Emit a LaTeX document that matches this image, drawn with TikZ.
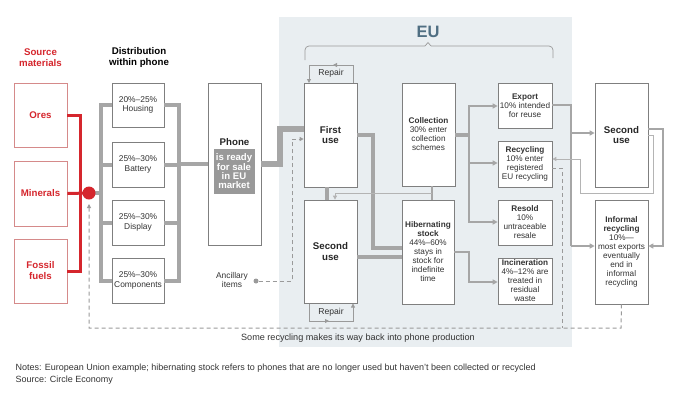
\documentclass[tikz,border=0pt]{standalone}
\usepackage{fontspec}
\setmainfont{Liberation Sans}
\usetikzlibrary{arrows.meta}
\definecolor{bgeu}{HTML}{E9EEF1}
\definecolor{bx}{HTML}{7F7F7F}
\definecolor{rbx}{HTML}{D58A8A}
\definecolor{redc}{HTML}{D5262D}
\definecolor{gline}{HTML}{A6A6A6}
\definecolor{gthin}{HTML}{B4B4B4}
\definecolor{dgray}{HTML}{9A9A9A}
\definecolor{txt}{HTML}{333333}
\definecolor{phg}{HTML}{999999}
\definecolor{eutxt}{HTML}{4F6E82}
\begin{document}
\begin{tikzpicture}[x=1pt,y=-1pt,
  box/.style={draw=bx, line width=0.7pt, fill=white, inner sep=1pt, align=center, text=txt, font=\fontsize{8.2}{9}\selectfont},
  srcbox/.style={draw=rbx, line width=0.7pt, fill=white, inner sep=1pt, align=center, text=redc, font=\fontsize{9.7}{11}\selectfont\bfseries},
  bigbox/.style={box, text=black!85, font=\fontsize{9.7}{10.5}\selectfont\bfseries},
  sz/.style 2 args={minimum width=#1pt, minimum height=#2pt},
  gl/.style={draw=gline, line width=4pt},
  glt/.style={draw=gline, line width=6.5pt},
  gm/.style={draw=gline, line width=2.4pt},
  gt/.style={draw=gthin, line width=0.8pt},
  arr/.style={-{Triangle[length=5pt,width=5pt]}},
  arrs/.style={-{Triangle[length=4pt,width=4pt]}},
  dsh/.style={draw=dgray, line width=1pt, dash pattern=on 4pt off 3pt},
  ttl/.style={align=center, font=\fontsize{9.7}{11}\selectfont\bfseries},
  lbl/.style={align=center, text=txt, font=\fontsize{8.4}{9.5}\selectfont},
]
\useasboundingbox (0,0) rectangle (680,397);
% EU background
\fill[bgeu] (279,17) rectangle (572,347);
\node[font=\fontsize{16.5}{18}\selectfont\bfseries, text=eutxt] (eu) at (428,32) {EU};
\draw[draw=dgray, line width=0.7pt, rounded corners=4pt] (305,60) -- (305,46) -- (425,46);
\draw[draw=dgray, line width=0.7pt] (425,46) -- (428,42.5) -- (431,46);
\draw[draw=dgray, line width=0.7pt, rounded corners=4pt] (431,46) -- (553,46) -- (553,58);

% titles
\node[ttl, text=redc] (srct) at (40.5,57.5) {Source\\materials};
\node[ttl] (distt) at (139,57.5) {Distribution\\within phone};

% source boxes
\node[srcbox, sz={53}{64}] (ores) at (40.5,115) {Ores};
\node[srcbox, sz={53}{65}] (minerals) at (40.5,193.5) {Minerals};
\node[srcbox, sz={53}{64}] (fossil) at (40.5,271) {Fossil\\fuels};

% distribution boxes
\node[box, sz={52}{44}, font=\fontsize{8.4}{9.8}\selectfont] (housing) at (138,105) {20\%–25\%\\Housing};
\node[box, sz={52}{45}, font=\fontsize{8.4}{9.8}\selectfont] (battery) at (138,164.5) {25\%–30\%\\Battery};
\node[box, sz={52}{45}, font=\fontsize{8.4}{9.8}\selectfont] (display) at (138,222.5) {25\%–30\%\\Display};
\node[box, sz={52}{45}, font=\fontsize{8.4}{9.8}\selectfont] (components) at (138,280.5) {25\%–30\%\\Components};

% phone
\node[box, sz={53}{162}] (phone) at (234.5,164) {};
\node[text=black!85, font=\fontsize{9.7}{10.5}\selectfont\bfseries] (phonelbl) at (234.5,142) {Phone};
\node[fill=phg, text=white, inner sep=0pt, sz={41}{45}, align=center, font=\fontsize{9.6}{9.3}\selectfont\bfseries] (ready) at (234,171.5) {is ready\\for sale\\in EU\\market};

% use boxes
\node[bigbox, sz={53}{104}] (firstuse) at (330.5,135) {First\\use};
\node[bigbox, sz={53}{103}] (seconduse) at (330.5,251.5) {Second\\use};

% collection, hibernating
\node[box, sz={53}{103}] (collection) at (428.5,134.5) {\textbf{Collection}\\30\% enter\\collection\\schemes};
\node[box, sz={52}{104}] (hibern) at (428,252) {\textbf{Hibernating}\\\textbf{stock}\\44\%–60\%\\stays in\\stock for\\indefinite\\time};

% destinations
\node[box, sz={54}{45}] (export) at (525,105.5) {\textbf{Export}\\10\% intended\\for reuse};
\node[box, sz={54}{46}] (recycling) at (525,164) {\textbf{Recycling}\\10\% enter\\registered\\EU recycling};
\node[box, sz={54}{45}] (resold) at (525,222.5) {\textbf{Resold}\\10\%\\untraceable\\resale};
\node[box, sz={54}{46}] (incin) at (525,281) {\textbf{Incineration}\\4\%–12\% are\\treated in\\residual\\waste};

% outside EU
\node[bigbox, sz={53}{104}] (secondout) at (621.5,135) {Second\\use};
\node[box, sz={53}{104}] (informal) at (621.5,252) {\textbf{Informal}\\\textbf{recycling}\\10\%—\\most exports\\eventually\\end in\\informal\\recycling};

% ancillary
\node[lbl] (anc) at (232,280) {Ancillary\\items};
\node[circle, fill=dgray, inner sep=0pt, minimum size=5pt] (ancdot) at (256,281) {};

% repair labels
\node[lbl, font=\fontsize{8.6}{9}\selectfont] (repairtop) at (331,73.5) {Repair};
\node[lbl, font=\fontsize{8.6}{9}\selectfont] (repairbot) at (331,312) {Repair};

% bottom text
\node[text=txt, font=\fontsize{9.1}{10}\selectfont] (backtxt) at (358,338) {Some recycling makes its way back into phone production};
\node[anchor=west, text=txt, font=\fontsize{9}{10}\selectfont] (notes) at (12,368) {Notes: European Union example; hibernating stock refers to phones that are no longer used but haven't been collected or recycled};
\node[anchor=west, text=txt, font=\fontsize{9}{10}\selectfont] (source) at (12,380.5) {Source: Circle Economy};

\coordinate (dotc) at (89,193);

% red connectors
\draw[draw=redc, line width=3pt] (ores.east) -- (80,115) -- (80,271) -- (fossil.east);
\draw[draw=redc, line width=3pt] (minerals.east) -- (dotc);

% distribution bus
\draw[gl] (dotc) -- (101,193);
\draw[gl, line cap=rect] (101,105) -- (101,281);
\draw[gl, line cap=rect] (179,105) -- (179,281);
\foreach \n in {housing,battery,display,components}{
  \draw[gl] (\n.west) -- ++(-11,0);
  \draw[gl] (\n.east) -- ++(15,0);
}
\draw[gl] (179,164) -- (phone.west);

% phone to first use
\draw[glt] (phone.east) -- (280,164) -- (280,129) -- (firstuse.west |- 280,129);

% ancillary dashed
\draw[dsh, arrs] (ancdot) -- (292,281) -- (292,139) -- (firstuse.west |- 292,139);

% repair loops
\draw[draw=dgray, line width=0.8pt, arrs] (353,83) -- (353,65) -- (333,65);
\draw[draw=dgray, line width=0.8pt, arrs] (334,65) -- (309,65) -- (309,83);
\draw[draw=dgray, line width=0.8pt, arrs] (309,303.5) -- (309,321) -- (329,321);
\draw[draw=dgray, line width=0.8pt, arrs] (328,321) -- (353,321) -- (353,303.5);

% use links
\draw[gl] (firstuse.south -| 327,0) -- (seconduse.north -| 327,0);
\draw[gl] (firstuse.east |- 0,135) -- (373,135) -- (373,248) -- (hibern.west |- 0,248);
\draw[gl] (seconduse.east |- 0,257) -- (hibern.west |- 0,257);
\draw[draw=gline, line width=2pt] (collection.south -| 432,0) -- (hibern.north -| 432,0);
\draw[gt, arrs] (432,193) -- (335,193) -- (seconduse.north -| 335,0);

% collection outputs
\draw[draw=gline, line width=3.5pt] (collection.east |- 0,135) -- (469,135);
\draw[gm, line cap=rect] (469,106) -- (469,222);
\draw[gm, arr] (469,106) -- (export.west |- 0,106);
\draw[gm, arr] (469,163) -- (recycling.west |- 0,163);
\draw[gm, arr] (469,222) -- (resold.west |- 0,222);
\draw[gm, arr] (hibern.east |- 0,252) -- (469,252) -- (469,282) -- (incin.west |- 0,282);

% export outputs
\draw[gm] (export.east |- 0,105) -- (571,105) -- (571,246);
\draw[gm, arr] (571,133) -- (secondout.west |- 0,133);
\draw[gm, arr] (571,246) -- (informal.west |- 0,246);
\draw[gm, arr] (secondout.east |- 0,129) -- (663,129) -- (663,246) -- (informal.east |- 0,246);
\draw[gt, arrs] (secondout.east |- 0,135) -- (653,135) -- (653,193) -- (580,193) -- (580,159) -- (recycling.east |- 0,159);

% dashed return
\draw[dsh] (recycling.east |- 0,168) -- (562,168) -- (562,328);
\draw[dsh, arrs] (informal.south) -- (621,328) -- (89,328) -- (89,204);

\node[circle, fill=redc, inner sep=0pt, minimum size=13pt] (dot) at (dotc) {};
\end{tikzpicture}
\end{document}
